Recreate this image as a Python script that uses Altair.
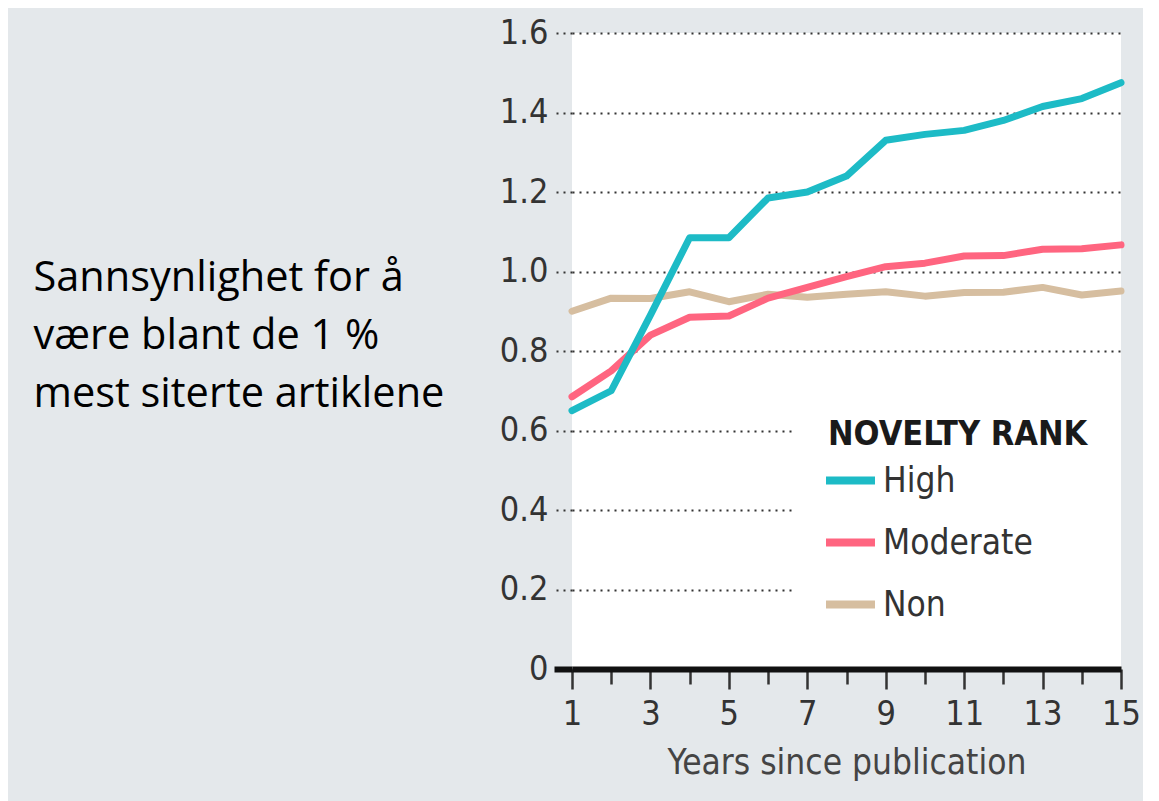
import altair as alt
import pandas as pd

# ---- data ----
years = list(range(1, 16))
high = [0.65, 0.70, 0.89, 1.085, 1.085, 1.185, 1.20, 1.24, 1.33, 1.345, 1.355, 1.38, 1.415, 1.435, 1.475]
moderate = [0.685, 0.75, 0.84, 0.885, 0.888, 0.933, 0.96, 0.987, 1.012, 1.021, 1.039, 1.04, 1.056, 1.057, 1.067]
non = [0.90, 0.933, 0.932, 0.949, 0.924, 0.943, 0.935, 0.943, 0.949, 0.938, 0.947, 0.948, 0.96, 0.941, 0.951]
series_names = ["High", "Moderate", "Non"]
series_colors = ["#1DBBC6", "#FF6580", "#D6BEA0"]
y_ticks = [0, 0.2, 0.4, 0.6, 0.8, 1.0, 1.2, 1.4, 1.6]
left_text = ["Sannsynlighet for å", "være blant de 1 %", "mest siterte artiklene"]

rows = []
for name, vals in zip(series_names, [high, moderate, non]):
    for yr, v in zip(years, vals):
        rows.append({"year": yr, "value": v, "series": name})
df = pd.DataFrame(rows)

FONT = "DejaVu Sans Condensed, DejaVu Sans, sans-serif"
GRID_DASH = [2, 5]
zero_test = "datum.value == 0"

y_axis = alt.Axis(
    values=y_ticks,
    labelExpr="datum.value == 0 ? '0' : format(datum.value, '.1f')",
    grid=True,
    gridDash=GRID_DASH,
    gridColor="#333333",
    gridWidth=2,
    domain=False,
    tickSize=18,
    tickDash={"condition": {"test": zero_test, "value": [1, 0]}, "value": GRID_DASH},
    tickWidth={"condition": {"test": zero_test, "value": 6}, "value": 2},
    tickColor={"condition": {"test": zero_test, "value": "#111111"}, "value": "#333333"},
    labelFont=FONT,
    labelFontSize=34,
    labelColor="#333333",
    labelPadding=6,
    title=left_text,
    titleAngle=0,
    titleAlign="left",
    titleBaseline="alphabetic",
    titleX=-539,
    titleY=257,
    titleFont="Open Sans",
    titleFontSize=41.5,
    titleFontWeight="normal",
    titleColor="#000000",
    titleLineHeight=58,
)

x_axis = alt.Axis(
    values=years,
    labelExpr="datum.value % 2 == 1 ? datum.label : ''",
    grid=False,
    tickSize={"condition": {"test": "datum.value % 2 == 1", "value": 20}, "value": 15},
    tickWidth=2.5,
    tickColor="#333333",
    domainWidth=6,
    domainColor="#111111",
    domainCap="butt",
    labelFont=FONT,
    labelFontSize=34,
    labelColor="#333333",
    labelPadding=8,
    labelFlush=False,
    title="Years since publication",
    titleFont=FONT,
    titleFontSize=35,
    titleFontWeight="normal",
    titleColor="#444444",
    titlePadding=14,
)

legend = alt.Legend(
    orient="none",
    legendX=223,
    legendY=352,
    fillColor="white",
    padding=33,
    title="NOVELTY RANK",
    titleFont=FONT,
    titleFontSize=34,
    titleFontWeight="bold",
    titleColor="#1a1a1a",
    titleLimit=500,
    titlePadding=0,
    labelFont=FONT,
    labelFontSize=35,
    labelColor="#333333",
    labelOffset=4,
    labelLimit=400,
    symbolType="stroke",
    symbolStrokeWidth=8,
    symbolSize=2400,
    symbolOffset=-6,
    rowPadding=15,
)

base = alt.Chart(df).mark_line(strokeWidth=7, strokeCap="round", strokeJoin="round").encode(
    x=alt.X("year:Q", scale=alt.Scale(domain=[1, 15], nice=False, zero=False), axis=x_axis),
    y=alt.Y("value:Q", scale=alt.Scale(domain=[0, 1.6], nice=False), axis=y_axis),
    color=alt.Color("series:N", scale=alt.Scale(domain=series_names, range=series_colors), legend=legend),
)

layers = [base.transform_filter(alt.datum.series == s) for s in ["Non", "Moderate", "High"]]

chart = alt.layer(*layers).properties(
    width=549,
    height=636,
    padding={"left": 564, "top": 25, "right": 22, "bottom": 132},
    autosize=alt.AutoSizeParams(type="none"),
).configure(
    background="#E4E8EB",
).configure_view(
    fill="white",
    strokeWidth=0,
)

chart.save("out.html", embed_options={"renderer": "svg", "actions": False})
